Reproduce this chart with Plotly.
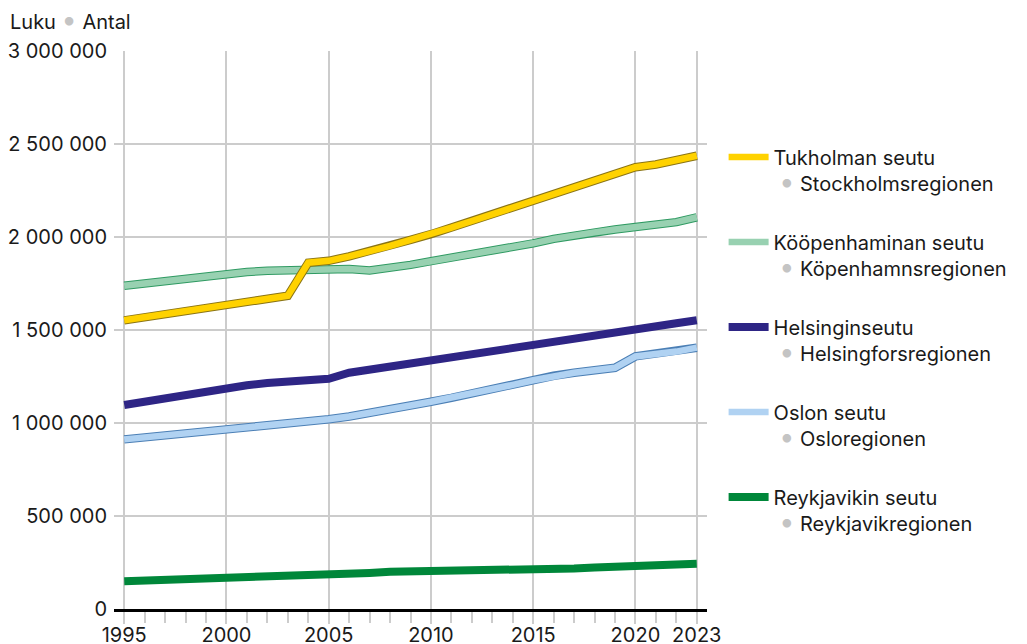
import plotly.graph_objects as go

years = list(range(1995, 2024))

stockholm = [1552000, 1568000, 1585000, 1601000, 1620000, 1638000, 1655000, 1670000, 1684000,
             1862000, 1872000, 1896000, 1922000, 1952000, 1985000, 2015000, 2050000, 2086000,
             2122000, 2158000, 2193000, 2228000, 2264000, 2300000, 2336000, 2375000, 2390000,
             2412000, 2437000]
copenhagen = [1738000, 1751000, 1765000, 1778000, 1792000, 1805000, 1812000, 1818000, 1822000,
              1825000, 1827000, 1828000, 1820000, 1832000, 1850000, 1870000, 1888000, 1906000,
              1925000, 1945000, 1966000, 1990000, 2010000, 2025000, 2040000, 2054000, 2065000,
              2080000, 2106000]
helsinki = [1097000, 1116000, 1135000, 1154000, 1173000, 1190000, 1203000, 1215000, 1225000,
            1232000, 1238000, 1270000, 1287000, 1305000, 1322000, 1338000, 1352000, 1369000,
            1387000, 1406000, 1424000, 1441000, 1458000, 1474000, 1489000, 1512000, 1524000,
            1536000, 1552000]
oslo = [912000, 922000, 933000, 944000, 955000, 966000, 975000, 985000, 996000,
        1008000, 1020000, 1035000, 1052000, 1072000, 1094000, 1114000, 1135000, 1160000,
        1182000, 1205000, 1230000, 1254000, 1270000, 1284000, 1297000, 1358000, 1370000,
        1384000, 1405000]
reykjavik = [149000, 152000, 155000, 159000, 163000, 167000, 172000, 175000, 177000,
             180000, 184000, 188000, 194000, 200000, 201000, 201000, 202000, 203000,
             205000, 208000, 211000, 214000, 218000, 223000, 228000, 233000, 235000,
             238000, 243000]

x_ticks = [1995, 2000, 2005, 2010, 2015, 2020, 2023]
y_ticks = [0, 500000, 1000000, 1500000, 2000000, 2500000, 3000000]

dot = "<span style='color:#c4c4c4;font-size:27px'>\u2022</span>"
# (values, finnish name, swedish name, fill colour, outline colour or None, legend rank)
series = [
    (reykjavik, "Reykjavikin seutu", "Reykjavikregionen", "#00873a", None, 5),
    (oslo, "Oslon seutu", "Osloregionen", "#b0d2f2", "#4b7fb5", 4),
    (helsinki, "Helsinginseutu", "Helsingforsregionen", "#2e2585", None, 3),
    (copenhagen, "Kööpenhaminan seutu", "Köpenhamnsregionen", "#98d1b1", "#2f9a62", 2),
    (stockholm, "Tukholman seutu", "Stockholmsregionen", "#ffd200", "#8a7415", 1),
]

fig = go.Figure()
for vals, fi, sv, col, edge, rank in series:
    if edge:
        fig.add_trace(go.Scatter(x=years, y=vals, mode="lines", showlegend=False,
                                 line=dict(color=edge, width=8.5), hoverinfo="skip"))
        w = 6.5
    else:
        w = 8
    fig.add_trace(go.Scatter(
        x=years, y=vals, mode="lines",
        name=f"{fi}<br>&nbsp;{dot} {sv}",
        legendgroup=fi, legendrank=rank,
        line=dict(color=col, width=w),
    ))

# page body has an 8px margin, so the figure is a bit smaller than the window
fig.update_layout(
    width=1019, height=636,
    margin=dict(l=106, r=320, t=43, b=35, autoexpand=False),
    paper_bgcolor="white", plot_bgcolor="white",
    font=dict(family="Inter, Roboto, sans-serif", size=20, color="#1a1a1a"),
    separators=". ",
    showlegend=True,
    legend=dict(x=1.028, y=0.845, xanchor="left", yanchor="top", valign="top",
                tracegroupgap=30, itemwidth=40, font=dict(size=20)),
    annotations=[dict(
        text=f"Luku {dot} Antal", x=-0.178, y=1.056, xref="paper", yref="paper",
        xanchor="left", yanchor="middle", showarrow=False, font=dict(size=20),
    )],
)
fig.update_xaxes(
    range=[1994.5, 2023.5], tickvals=x_ticks, showgrid=True, gridcolor="#cccccc", gridwidth=1.5,
    ticks="outside", ticklen=12, tickcolor="#cccccc", tickwidth=1.5, automargin=False,
    ticklabelstandoff=-6,
    minor=dict(dtick=1, tick0=1995, ticks="outside", ticklen=11, tickcolor="#cccccc", showgrid=False),
    showline=True, linecolor="#000000", linewidth=3, zeroline=False,
)
fig.update_yaxes(
    range=[0, 3000000], tickvals=y_ticks, tickformat=",d", showgrid=True, gridcolor="#cccccc",
    gridwidth=1.5, zeroline=False, ticks="", ticklabelstandoff=6, automargin=False,
)

fig.write_html("out.html")
